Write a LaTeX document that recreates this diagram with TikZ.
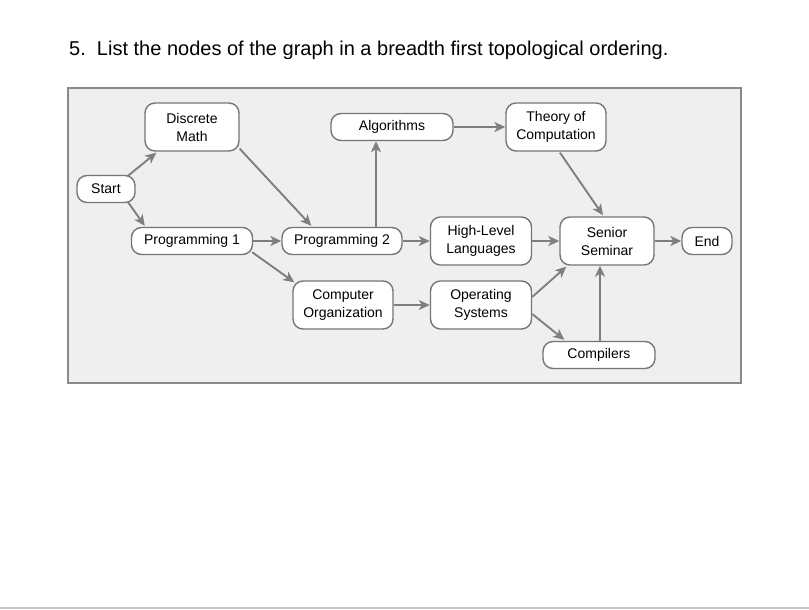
\documentclass[tikz,border=0pt]{standalone}
\usepackage{fontspec}
\setmainfont{Liberation Sans}
\usetikzlibrary{arrows.meta,calc}
\definecolor{framefill}{HTML}{EFEFEF}
\definecolor{framedraw}{HTML}{8A8A8A}
\definecolor{boxdraw}{HTML}{767676}
\definecolor{arrowc}{HTML}{7F7F7F}
\definecolor{rulec}{HTML}{C4C4C4}
\begin{document}
\begin{tikzpicture}[x=1pt,y=-1pt,
  box/.style={draw=boxdraw,fill=white,line width=1.4pt,rounded corners=10pt,
    inner sep=0pt,align=center,font=\fontsize{14}{18}\selectfont},
  onel/.style={box,minimum height=27pt},
  twol/.style={box,minimum height=48pt},
  conn/.style={draw=arrowc,line width=1.9pt,-{Stealth[length=11pt,width=10pt,inset=3pt]}}
]
\useasboundingbox (0,0) rectangle (809,610);
\fill[white] (0,0) rectangle (809,610);
\draw[rulec,line width=2pt] (0,608) -- (809,608);
\node[anchor=base west,inner sep=0pt,font=\fontsize{20}{24}\selectfont] (title) at (69,56)
  {5.\ \ List the nodes of the graph in a breadth first topological ordering.};
\draw[framedraw,fill=framefill,line width=1.8pt] (68,88) rectangle (741,383);

\node[onel,minimum width=58pt] (start) at (106,189) {Start};
\node[twol,minimum width=94pt] (dm) at (192,127) {Discrete\\Math};
\node[onel,minimum width=122pt] (alg) at (392,127) {Algorithms};
\node[twol,minimum width=100pt] (th) at (556,127) {Theory of\\Computation};
\node[onel,minimum width=121pt] (p1) at (192,241) {Programming 1};
\node[onel,minimum width=120pt] (p2) at (342,241) {Programming 2};
\node[twol,minimum width=101pt] (hll) at (481,241) {High-Level\\Languages};
\node[twol,minimum width=94pt] (ss) at (607,241) {Senior\\Seminar};
\node[onel,minimum width=50pt] (end) at (707,241) {End};
\node[twol,minimum width=100pt] (co) at (343,305) {Computer\\Organization};
\node[twol,minimum width=101pt] (os) at (481,305) {Operating\\Systems};
\node[onel,minimum width=112pt] (comp) at (599,355) {Compilers};

\coordinate (p2up) at ($(p2.north)+(34,0)$);
\coordinate (compup) at ($(comp.north)+(1,0)$);

\draw[conn] ($(start.north)+(22,1)$) -- ($(dm.south west)+(12,1)$);
\draw[conn] ($(start.south)+(22,-1)$) -- ($(p1.north west)+(14,-1)$);
\draw[conn] ($(dm.south east)+(0,-3)$) -- ($(p2.north west)+(30,-1)$);
\draw[conn] (p1.east) -- (p2.west);
\draw[conn] ($(p1.south east)+(-1,-3)$) -- ($(co.north west)+(2,2)$);
\draw[conn] (p2up) -- (p2up |- alg.south);
\draw[conn] (p2.east) -- (p2.east -| hll.west);
\draw[conn] (alg.east) -- (alg.east -| th.west);
\draw[conn] ($(th.south)+(4,1)$) -- ($(ss.north)+(-4,-1)$);
\draw[conn] (hll.east) -- (ss.west);
\draw[conn] (ss.east) -- (ss.east -| end.west);
\draw[conn] (co.east) -- (os.west);
\draw[conn] ($(os.east)+(0,-8)$) -- ($(ss.south west)+(7,1)$);
\draw[conn] ($(os.east)+(0,9)$) -- ($(comp.north west)+(22,-1)$);
\draw[conn] (compup) -- (compup |- ss.south);
\end{tikzpicture}
\end{document}
